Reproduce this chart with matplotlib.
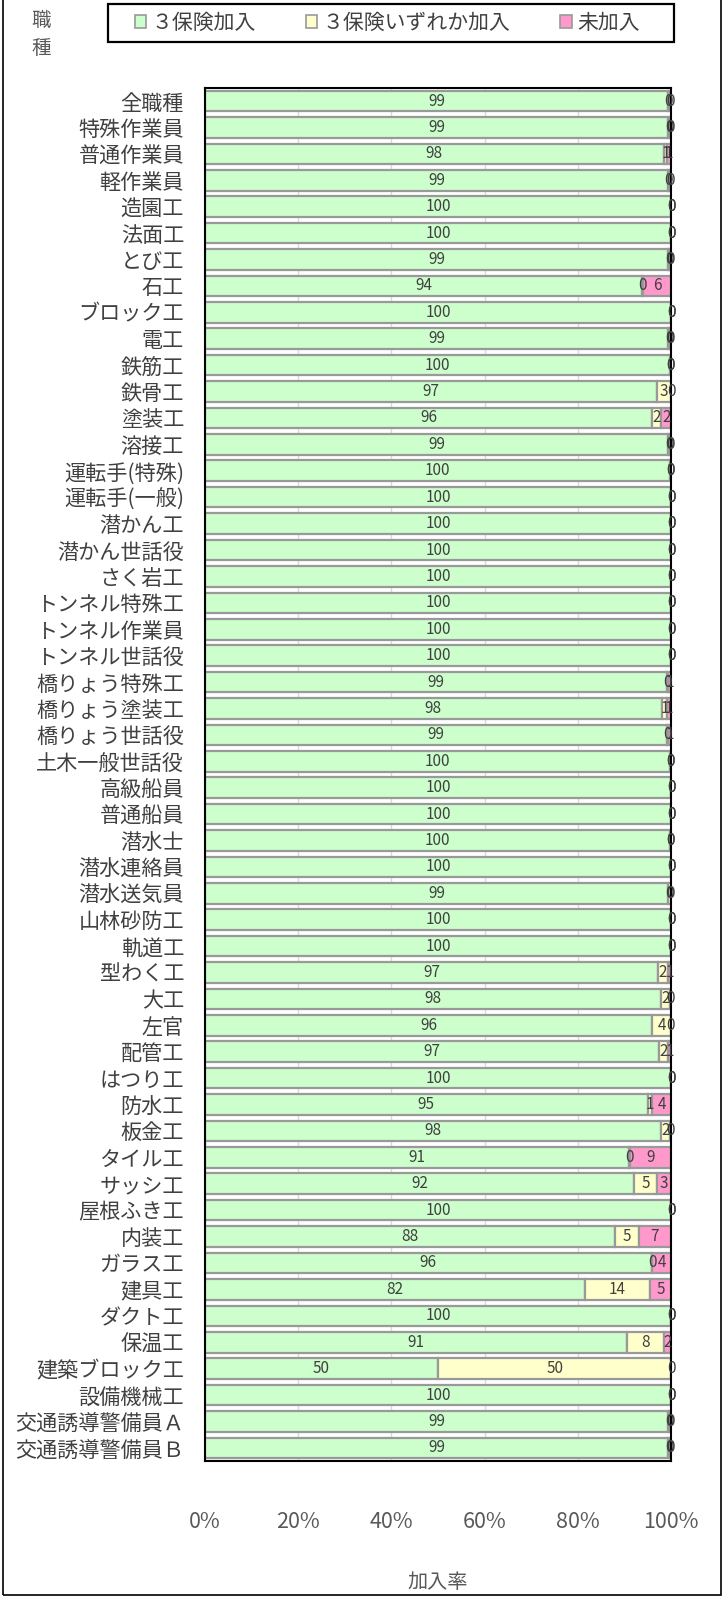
import matplotlib
matplotlib.use('Agg')
import matplotlib.pyplot as plt
from matplotlib.patches import Patch, Rectangle
import numpy as np

plt.rcParams['font.family'] = ['Noto Sans CJK JP', 'DejaVu Sans']

jobs = ['全職種', '特殊作業員', '普通作業員', '軽作業員', '造園工', '法面工', 'とび工', '石工',
        'ブロック工', '電工', '鉄筋工', '鉄骨工', '塗装工', '溶接工', '運転手(特殊)', '運転手(一般)',
        '潜かん工', '潜かん世話役', 'さく岩工', 'トンネル特殊工', 'トンネル作業員', 'トンネル世話役',
        '橋りょう特殊工', '橋りょう塗装工', '橋りょう世話役', '土木一般世話役', '高級船員', '普通船員',
        '潜水士', '潜水連絡員', '潜水送気員', '山林砂防工', '軌道工', '型わく工', '大工', '左官',
        '配管工', 'はつり工', '防水工', '板金工', 'タイル工', 'サッシ工', '屋根ふき工', '内装工',
        'ガラス工', '建具工', 'ダクト工', '保温工', '建築ブロック工', '設備機械工',
        '交通誘導警備員Ａ', '交通誘導警備員Ｂ']

# percentages (small segments estimated)
all3 = [99.3, 99.4, 98.4, 99.3, 100, 100, 99.4, 93.8, 100, 99.4, 99.8, 96.9, 95.9, 99.4, 99.8, 100,
        100, 100, 100, 100, 100, 100, 99.1, 98.0, 99.2, 99.8, 100, 100, 99.8, 100, 99.4, 100, 100,
        97.2, 97.9, 96.0, 97.3, 100, 95.0, 97.8, 90.9, 92.0, 100, 88.0, 95.8, 81.6, 100, 90.6, 50.0,
        100, 99.4, 99.4]
some = [0.4, 0.3, 0.8, 0.3, 0, 0, 0.4, 0.2, 0, 0.3, 0.1, 3.1, 2.0, 0.4, 0.1, 0, 0, 0, 0, 0, 0, 0,
        0.3, 1.2, 0.2, 0.1, 0, 0, 0.1, 0, 0.5, 0, 0, 2.1, 1.9, 3.9, 2.0, 0, 1.0, 2.0, 0.2, 5.0, 0,
        5.0, 0.2, 13.8, 0, 7.8, 50.0, 0, 0.3, 0.4]
none = [0.3, 0.3, 0.8, 0.4, 0, 0, 0.2, 6.0, 0, 0.3, 0.1, 0, 2.1, 0.2, 0.1, 0, 0, 0, 0, 0, 0, 0,
        0.6, 0.8, 0.6, 0.1, 0, 0, 0.1, 0, 0.1, 0, 0, 0.7, 0.2, 0.1, 0.7, 0, 4.0, 0.2, 8.9, 3.0, 0,
        7.0, 4.0, 4.6, 0, 1.6, 0, 0, 0.3, 0.2]

series = [('３保険加入', all3, '#CCFFCC'),
          ('３保険いずれか加入', some, '#FFFFCC'),
          ('未加入', none, '#FF99CC')]

fig = plt.figure(figsize=(7.24, 15.98), dpi=100)
ax = fig.add_axes([0.283, 0.0857, 0.644, 0.8593])

y = np.arange(len(jobs))
left = np.zeros(len(jobs))
for name, vals, col in series:
    vals = np.array(vals, dtype=float)
    ax.barh(y, vals, left=left, height=0.78, color=col, edgecolor='#999999', linewidth=1.6,
            label=name, zorder=2)
    for yi, (l, v) in enumerate(zip(left, vals)):
        ax.text(l + v / 2, yi, '%d' % round(v), ha='center', va='center', fontsize=11,
                color='#404040', zorder=3)
    left += vals

ax.set_xlim(0, 100)
ax.set_ylim(len(jobs) - 0.5, -0.5)
ax.set_yticks(y)
ax.set_yticklabels(jobs, fontsize=15.2, color='#404040')
ax.set_xticks([0, 20, 40, 60, 80, 100])
ax.set_xticklabels(['0%', '20%', '40%', '60%', '80%', '100%'], fontsize=15.5, color='#595959')
ax.tick_params(axis='y', length=0, pad=15)
ax.tick_params(axis='x', length=0, pad=36)
ax.set_axisbelow(True)
ax.xaxis.grid(True, color='#d9d9d9', linewidth=1)
for s in ax.spines.values():
    s.set_color('black')
    s.set_linewidth(1.5)
ax.set_xlabel('加入率', fontsize=14.5, color='#595959', labelpad=28)

fig.text(0.057, 0.994, '職\n種', fontsize=14, color='#595959', ha='center', va='top',
         linespacing=1.45)

# legend box
fig.patches.append(Rectangle((108 / 724, 1 - 42 / 1598), 566 / 724, 38 / 1598,
                             transform=fig.transFigure, fill=False, edgecolor='black',
                             linewidth=1.6))
handles = [Patch(facecolor=c, edgecolor='#999999', linewidth=1.2, label=n) for n, v, c in series]
fig.legend(handles=handles, loc='center', ncol=3, bbox_to_anchor=(0.535, 1 - 23 / 1598),
           fontsize=15, handlelength=0.55, handleheight=0.55, handletextpad=0.25,
           columnspacing=2.4, frameon=False, labelcolor='#404040')

fig.patches.append(Rectangle((0.004, 0.002), 0.992, 1.1, transform=fig.transFigure,
                             fill=False, edgecolor='black', linewidth=1.2))

fig.savefig('out.png', dpi=100)
